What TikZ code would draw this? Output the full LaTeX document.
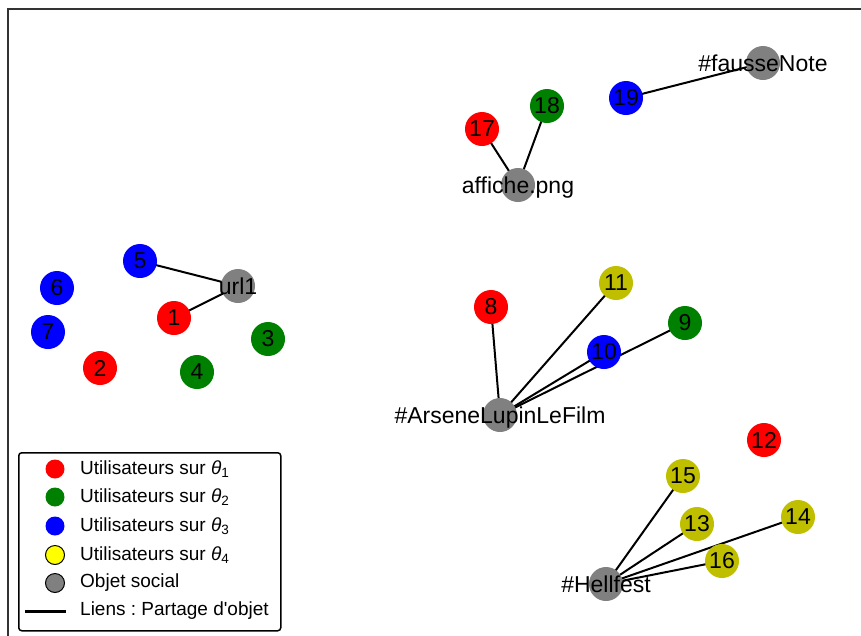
\documentclass[tikz,border=0pt]{standalone}
\usepackage{fontspec}
\setmainfont{Liberation Sans}
\usetikzlibrary{backgrounds}
\definecolor{nred}{RGB}{255,0,0}
\definecolor{ngreen}{RGB}{0,128,0}
\definecolor{nblue}{RGB}{0,0,255}
\definecolor{nolive}{RGB}{191,191,0}
\definecolor{nyellow}{RGB}{255,255,0}
\definecolor{ngray}{RGB}{128,128,128}
\definecolor{frame}{RGB}{51,51,51}
\newcommand{\thet}[1]{{\itshape θ}\raisebox{-3pt}{\fontsize{13.5}{13.5}\selectfont #1}}
\frenchspacing
\begin{document}
\begin{tikzpicture}[x=1pt,y=-1pt,
  nodebase/.style={circle,minimum size=34pt,inner sep=0pt,text=black,font=\fontsize{23}{23}\selectfont},
  ured/.style={nodebase,fill=nred},
  ugreen/.style={nodebase,fill=ngreen},
  ublue/.style={nodebase,fill=nblue},
  uolive/.style={nodebase,fill=nolive},
  obj/.style={nodebase,fill=ngray},
  objlabel/.style={label={[font=\fontsize{23}{23}\selectfont,text=black,text height=16.5pt,text depth=0pt]center:#1}},
  link/.style={line width=2pt,black},
  legtext/.style={anchor=west,font=\fontsize{19}{19}\selectfont,inner sep=0pt},
  legmark/.style={circle,minimum size=19pt,inner sep=0pt}
]
\useasboundingbox (0,0) rectangle (861,635);
\clip (0,0) rectangle (861,635);
\draw[line width=2pt,frame] (7.5,9) rectangle (880,660);

% cluster url1
\node[ured] (n1) at (174,318) {1};
\node[ured] (n2) at (100,368) {2};
\node[ugreen] (n3) at (268,339) {3};
\node[ugreen] (n4) at (197,372) {4};
\node[ublue] (n5) at (140,261) {5};
\node[ublue] (n6) at (57,288) {6};
\node[ublue] (n7) at (48,332) {7};
\node[obj,objlabel={url1}] (url) at (238,286) {};

% cluster Arsene
\node[ured] (n8) at (491,307) {8};
\node[ugreen] (n9) at (685,323) {9};
\node[ublue] (n10) at (604,352) {10};
\node[uolive] (n11) at (616,283) {11};
\node[obj,objlabel={\#ArseneLupinLeFilm}] (ars) at (500,415) {};

% cluster Hellfest
\node[ured] (n12) at (764,440) {12};
\node[uolive] (n13) at (697,524) {13};
\node[uolive] (n14) at (798,517) {14};
\node[uolive] (n15) at (683,476) {15};
\node[uolive] (n16) at (722,561) {16};
\node[obj,objlabel={\#Hellfest}] (hell) at (606,584) {};

% cluster affiche
\node[ured] (n17) at (482,129) {17};
\node[ugreen] (n18) at (547,106) {18};
\node[obj,objlabel={affiche.png}] (aff) at (518,185) {};

% cluster fausseNote
\node[ublue] (n19) at (626,98) {19};
\node[obj,objlabel={\#fausseNote}] (faus) at (763,63) {};

\begin{pgfonlayer}{background}
\draw[link] (n5.center) -- (url.center);
\draw[link] (n1.center) -- (url.center);
\draw[link] (n8.center) -- (ars.center);
\draw[link] (n11.center) -- (ars.center);
\draw[link] (n10.center) -- (ars.center);
\draw[link] (n9.center) -- (ars.center);
\draw[link] (n15.center) -- (hell.center);
\draw[link] (n13.center) -- (hell.center);
\draw[link] (n14.center) -- (hell.center);
\draw[link] (n16.center) -- (hell.center);
\draw[link] (n17.center) -- (aff.center);
\draw[link] (n18.center) -- (aff.center);
\draw[link] (n19.center) -- (faus.center);
\end{pgfonlayer}

% legend
\node[draw=black,line width=1.5pt,fill=white,rounded corners=3pt,minimum width=262pt,minimum height=178pt,inner sep=0pt,anchor=north west] (leg) at (18,452) {};
\node[legmark,fill=nred] (m1) at (55,469) {};
\node[legmark,fill=ngreen] (m2) at (55,497) {};
\node[legmark,fill=nblue] (m3) at (55,526) {};
\node[legmark,fill=nyellow,draw=black,line width=1pt] (m4) at (55,555) {};
\node[legmark,fill=ngray,draw=black,line width=1pt] (m5) at (55,583) {};
\coordinate (la) at (25,611);
\coordinate (lb) at (66,611);
\draw[line width=3pt,black] (la) -- (lb);
\node[legtext] (t1) at (80,469) {Utilisateurs sur \thet{1}};
\node[legtext] (t2) at (80,497) {Utilisateurs sur \thet{2}};
\node[legtext] (t3) at (80,526) {Utilisateurs sur \thet{3}};
\node[legtext] (t4) at (80,555) {Utilisateurs sur \thet{4}};
\node[legtext] (t5) at (80,583) {Objet social};
\node[legtext] (t6) at (80,611) {Liens : Partage d\textquotesingle objet};
\end{tikzpicture}
\end{document}
